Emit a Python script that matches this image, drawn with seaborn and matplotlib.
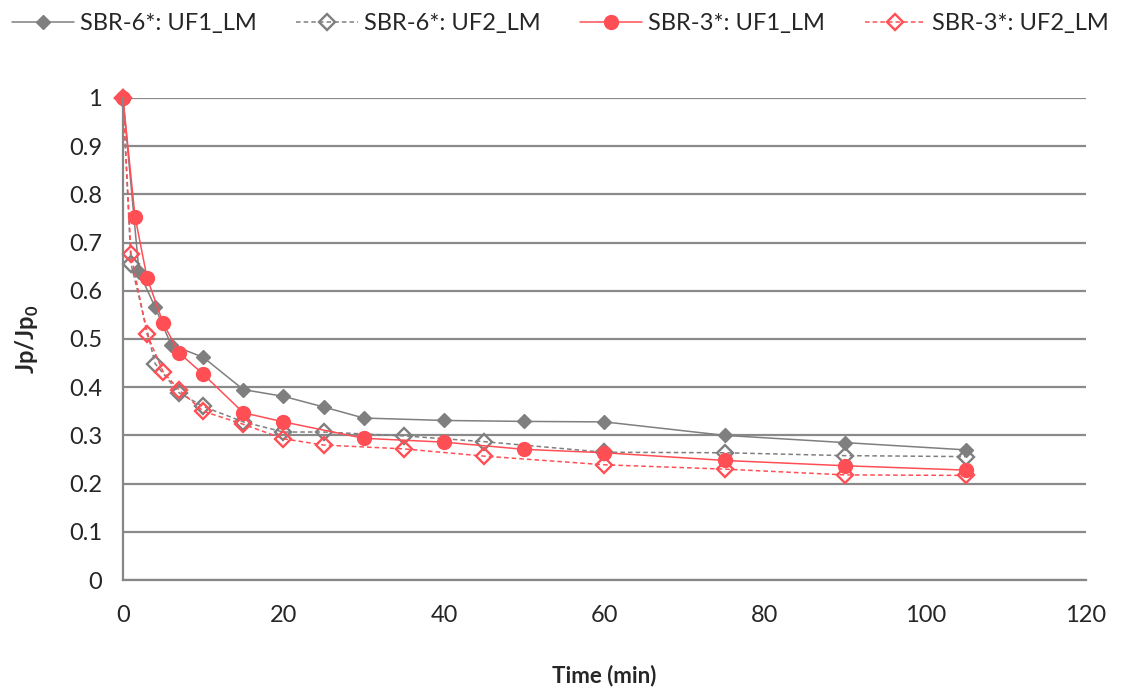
import matplotlib
matplotlib.use("Agg")
import matplotlib.pyplot as plt
import seaborn as sns
import pandas as pd

# Data
t_s6_uf1 = [0, 2, 4, 6, 10, 15, 20, 25, 30, 40, 50, 60, 75, 90, 105]
v_s6_uf1 = [1.0, 0.639, 0.566, 0.488, 0.462, 0.395, 0.381, 0.359, 0.336, 0.331, 0.329, 0.328, 0.300, 0.285, 0.270]

t_s6_uf2 = [0, 1, 4, 7, 10, 15, 20, 25, 35, 45, 60, 75, 90, 105]
v_s6_uf2 = [1.0, 0.656, 0.449, 0.388, 0.360, 0.328, 0.307, 0.307, 0.299, 0.287, 0.265, 0.264, 0.258, 0.256]

t_s3_uf1 = [0, 1.5, 3, 5, 7, 10, 15, 20, 30, 40, 50, 60, 75, 90, 105]
v_s3_uf1 = [1.0, 0.754, 0.627, 0.533, 0.471, 0.427, 0.347, 0.328, 0.294, 0.286, 0.271, 0.264, 0.248, 0.237, 0.228]

t_s3_uf2 = [0, 1, 3, 5, 7, 10, 15, 20, 25, 35, 45, 60, 75, 90, 105]
v_s3_uf2 = [1.0, 0.676, 0.510, 0.432, 0.394, 0.350, 0.323, 0.293, 0.280, 0.272, 0.257, 0.239, 0.230, 0.218, 0.217]

labels = ["SBR-6*: UF1_LM", "SBR-6*: UF2_LM", "SBR-3*: UF1_LM", "SBR-3*: UF2_LM"]
x_ticks = [0, 20, 40, 60, 80, 100, 120]
y_ticks = [0, 0.1, 0.2, 0.3, 0.4, 0.5, 0.6, 0.7, 0.8, 0.9, 1.0]
y_tick_labels = ["0", "0.1", "0.2", "0.3", "0.4", "0.5", "0.6", "0.7", "0.8", "0.9", "1"]

sns.set_style("white")
plt.rcParams['font.family'] = ['Lato', 'DejaVu Sans']
plt.rcParams['mathtext.fontset'] = 'custom'
plt.rcParams['mathtext.bf'] = 'Lato:bold'
plt.rcParams['mathtext.rm'] = 'Lato'

GREY = "#7f7f7f"
RED = "#ff4f55"

fig = plt.figure(figsize=(11.21, 6.89), dpi=100)
ax = fig.add_axes([0.1097, 0.1582, 0.8591, 0.6996])

series = [
    (t_s6_uf1, v_s6_uf1, dict(color=GREY, linestyle="-", marker="D", markersize=7,
                               markerfacecolor=GREY, markeredgecolor=GREY, linewidth=1.1, mew=1.0)),
    (t_s6_uf2, v_s6_uf2, dict(color=GREY, linestyle=(0, (3, 2)), marker="D", markersize=8.5,
                               markerfacecolor="none", markeredgecolor=GREY, linewidth=1.1, mew=1.7)),
    (t_s3_uf1, v_s3_uf1, dict(color=RED, linestyle="-", marker="o", markersize=10,
                               markerfacecolor=RED, markeredgecolor=RED, linewidth=1.1, mew=1.0)),
    (t_s3_uf2, v_s3_uf2, dict(color=RED, linestyle=(0, (3, 2)), marker="D", markersize=8.5,
                               markerfacecolor="none", markeredgecolor=RED, linewidth=1.1, mew=1.7)),
]

for (t, v, kw), lab in zip(series, labels):
    df = pd.DataFrame({"t": t, "v": v})
    sns.lineplot(data=df, x="t", y="v", ax=ax, label=lab, estimator=None, sort=False,
                 clip_on=False, **kw)

ax.set_xlim(0, 120)
ax.set_ylim(0, 1)
ax.set_xticks(x_ticks)
ax.set_yticks(y_ticks)
ax.set_xticklabels([str(x) for x in x_ticks])
ax.set_yticklabels(y_tick_labels)
ax.tick_params(axis="both", labelsize=17, length=5, color="#868686", direction="out", pad=10)
ax.tick_params(axis="x", pad=13)
ax.yaxis.grid(True, color="#8a8a8a", linewidth=1.6)
ax.xaxis.grid(False)
ax.set_axisbelow(True)
for s in ["top", "right"]:
    ax.spines[s].set_visible(False)
for s in ["left", "bottom"]:
    ax.spines[s].set_color("#868686")
    ax.spines[s].set_linewidth(1.6)

ax.set_xlabel("Time (min)", fontsize=16, fontweight="bold", labelpad=28)
ax.set_ylabel(r"Jp/Jp$_\mathbf{0}$", fontsize=17, fontweight="bold", labelpad=20)

ax.get_legend().remove()
h, l = ax.get_legend_handles_labels()
fig.legend(h, l, loc="upper center", ncol=4, bbox_to_anchor=(0.5, 1.012), frameon=False,
           fontsize=17, handlelength=2.6, columnspacing=1.7, handletextpad=0.25)

fig.savefig("out.png", dpi=100)
